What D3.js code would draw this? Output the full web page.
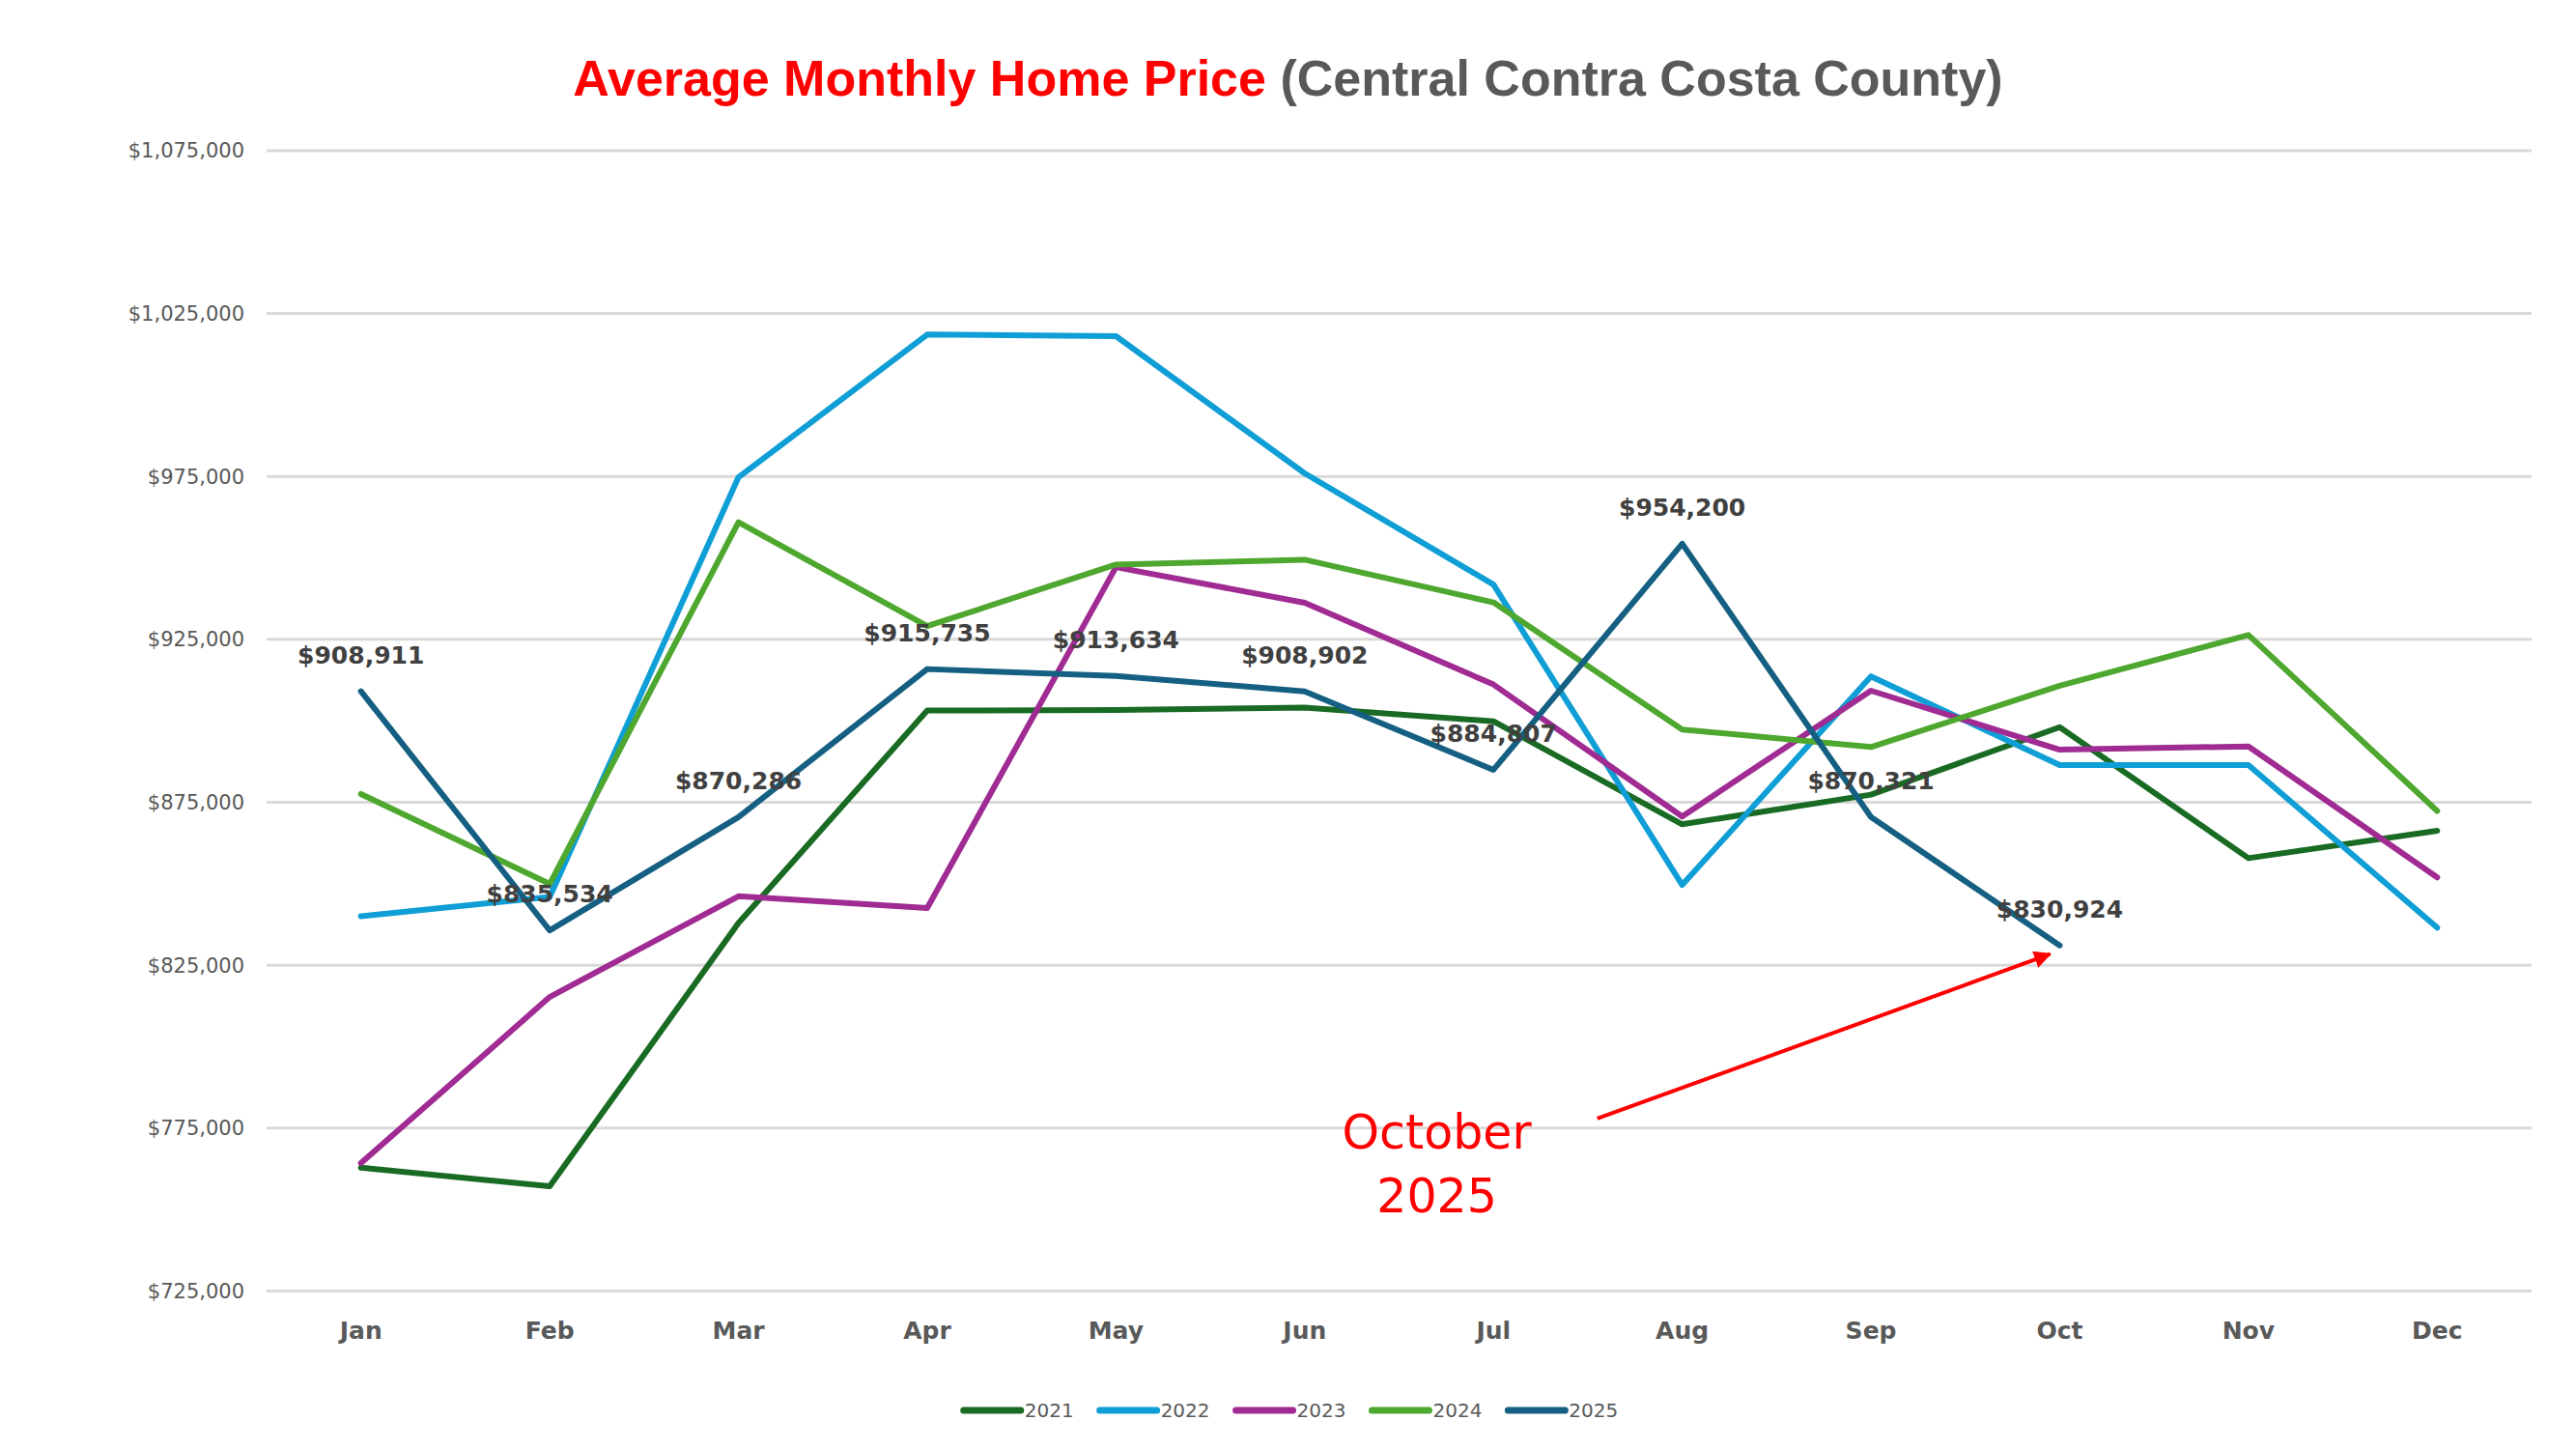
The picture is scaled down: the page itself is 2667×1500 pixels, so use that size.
<!DOCTYPE html>
<html>
<head>
<meta charset="utf-8">
<script src="https://cdn.jsdelivr.net/npm/d3@7"></script>
<style>
  html, body { margin: 0; padding: 0; background: #ffffff; }
  svg { display: block; }
</style>
</head>
<body>
<script>
// ---------------- DATA ----------------
const months = ["Jan","Feb","Mar","Apr","May","Jun","Jul","Aug","Sep","Oct","Nov","Dec"];
const years = ["2021","2022","2023","2024","2025"];
const v2021 = [762700, 757000, 837800, 903000, 903200, 903900, 899700, 868100, 877200, 897900, 857700, 866100];
const v2022 = [839900, 845800, 974600, 1018400, 1017900, 975800, 941700, 849500, 913500, 886300, 886300, 836400];
const v2023 = [764100, 815100, 846000, 842400, 947000, 936100, 911000, 870500, 909100, 891000, 892000, 851800];
const v2024 = [877400, 849800, 960800, 928900, 947800, 949300, 936200, 897200, 891800, 910600, 926200, 872200];
const v2025 = [908911, 835534, 870286, 915735, 913634, 908902, 884807, 954200, 870321, 830924];
const yTicks = [725000, 775000, 825000, 875000, 925000, 975000, 1025000, 1075000];
const titleMain = "Average Monthly Home Price";
const titleSub = "(Central Contra Costa County)";
const noteLines = ["October", "2025"];

const seriesValues = [v2021, v2022, v2023, v2024, v2025];
const colors = ["#196B24", "#0F9ED5", "#A02B93", "#4EA72E", "#156082"];
const series = years.map((yr, i) => ({
  name: yr,
  color: colors[i],
  points: seriesValues[i].map((v, j) => ({ month: months[j], value: v }))
}));

// ---------------- LAYOUT ----------------
const W = 2667, H = 1500;
const plot = { left: 276, right: 2621, top: 155.4, bottom: 1336 };

const svg = d3.select("body").append("svg")
  .attr("width", W).attr("height", H)
  .attr("viewBox", `0 0 ${W} ${H}`);

svg.append("rect").attr("width", W).attr("height", H).attr("fill", "#ffffff");

const x = d3.scaleBand().domain(months).range([plot.left, plot.right]).padding(0);
const y = d3.scaleLinear().domain([725000, 1075000]).range([plot.bottom, plot.top]);
const xc = m => x(m) + x.bandwidth() / 2;

// Title
const title = svg.append("text")
  .attr("x", W / 2).attr("y", 99)
  .attr("text-anchor", "middle")
  .style("font-family", "'Liberation Sans', Arial, sans-serif")
  .style("font-weight", "bold")
  .style("font-size", "52px");
title.append("tspan").attr("fill", "#FF0000").text(titleMain);
title.append("tspan").attr("fill", "#595959").text(" " + titleSub);

// Y axis with gridlines
const yAxis = d3.axisLeft(y)
  .tickValues(yTicks)
  .tickFormat(d3.format("$,.0f"))
  .tickSize(-(plot.right - plot.left))
  .tickPadding(23);

const gy = svg.append("g")
  .attr("transform", `translate(${plot.left},0)`)
  .call(yAxis);
gy.select(".domain").remove();
gy.selectAll(".tick line").attr("stroke", "#D9D9D9").attr("stroke-width", 3);
gy.selectAll(".tick text")
  .attr("fill", "#595959")
  .attr("dy", "0.36em")
  .style("font-family", "'DejaVu Sans', sans-serif")
  .style("font-size", "21px");

// X axis
const xAxis = d3.axisBottom(x).tickSize(0).tickPadding(0);
const gx = svg.append("g")
  .attr("transform", `translate(0,${plot.bottom})`)
  .call(xAxis);
gx.select(".domain").remove();
gx.selectAll(".tick text")
  .attr("y", 49.5)
  .attr("dy", null)
  .attr("fill", "#595959")
  .style("font-family", "'DejaVu Sans', sans-serif")
  .style("font-weight", "bold")
  .style("font-size", "25px");

// Lines
const line = d3.line().x(d => xc(d.month)).y(d => y(d.value));
svg.append("g").selectAll("path")
  .data(series)
  .join("path")
  .attr("d", d => line(d.points))
  .attr("fill", "none")
  .attr("stroke", d => d.color)
  .attr("stroke-width", 6)
  .attr("stroke-linejoin", "round")
  .attr("stroke-linecap", "round");

// Data labels for 2025
const last = series[series.length - 1];
svg.append("g").selectAll("text")
  .data(last.points)
  .join("text")
  .attr("x", d => xc(d.month))
  .attr("y", d => y(d.value) - 29)
  .attr("text-anchor", "middle")
  .attr("fill", "#404040")
  .style("font-family", "'DejaVu Sans', sans-serif")
  .style("font-weight", "bold")
  .style("font-size", "25px")
  .text(d => d3.format("$,.0f")(d.value));

// Annotation: "October 2025" with arrow to the Oct 2025 point
const defs = svg.append("defs");
defs.append("marker")
  .attr("id", "arrowhead")
  .attr("viewBox", "0 0 10 10")
  .attr("refX", 9).attr("refY", 5)
  .attr("markerWidth", 5).attr("markerHeight", 4.5)
  .attr("markerUnits", "strokeWidth")
  .attr("orient", "auto")
  .append("path")
  .attr("d", "M0,0 L10,5 L0,10 Z")
  .attr("fill", "#FF0000");

const octPt = last.points.find(p => p.month === "Oct");
const noteX = xc("Jul") - 0.3 * x.bandwidth();
const arrowStart = { x: xc("Jul") + 0.55 * x.bandwidth(), y: y(777800) };
const arrowEnd = { x: xc(octPt.month) - 10, y: y(octPt.value) + 9 };

svg.append("line")
  .attr("x1", arrowStart.x).attr("y1", arrowStart.y)
  .attr("x2", arrowEnd.x).attr("y2", arrowEnd.y)
  .attr("stroke", "#FF0000")
  .attr("stroke-width", 4)
  .attr("marker-end", "url(#arrowhead)");

const note = svg.append("text")
  .attr("text-anchor", "middle")
  .attr("fill", "#FF0000")
  .style("font-family", "'DejaVu Sans', sans-serif")
  .style("font-size", "49px");
note.append("tspan").attr("x", noteX).attr("y", y(768600)).text(noteLines[0]);
note.append("tspan").attr("x", noteX).attr("y", y(749000)).text(noteLines[1]);

// Legend
const legendY = 1460;
const legend = svg.append("g");
const items = legend.selectAll("g")
  .data(series)
  .join("g");
items.append("line")
  .attr("x1", 0).attr("x2", 59)
  .attr("y1", 0).attr("y2", 0)
  .attr("stroke", d => d.color)
  .attr("stroke-width", 7)
  .attr("stroke-linecap", "round");
items.append("text")
  .attr("x", 63).attr("y", 7)
  .attr("fill", "#595959")
  .style("font-family", "'DejaVu Sans', sans-serif")
  .style("font-size", "20px")
  .text(d => d.name);
let cursor = 0;
items.each(function () {
  const g = d3.select(this);
  g.attr("transform", `translate(${cursor},0)`);
  const tw = g.select("text").node().getComputedTextLength();
  cursor += 63 + tw + 27;
});
const total = cursor - 27;
legend.attr("transform", `translate(${W / 2 + 3 - total / 2},${legendY})`);
</script>
</body>
</html>
